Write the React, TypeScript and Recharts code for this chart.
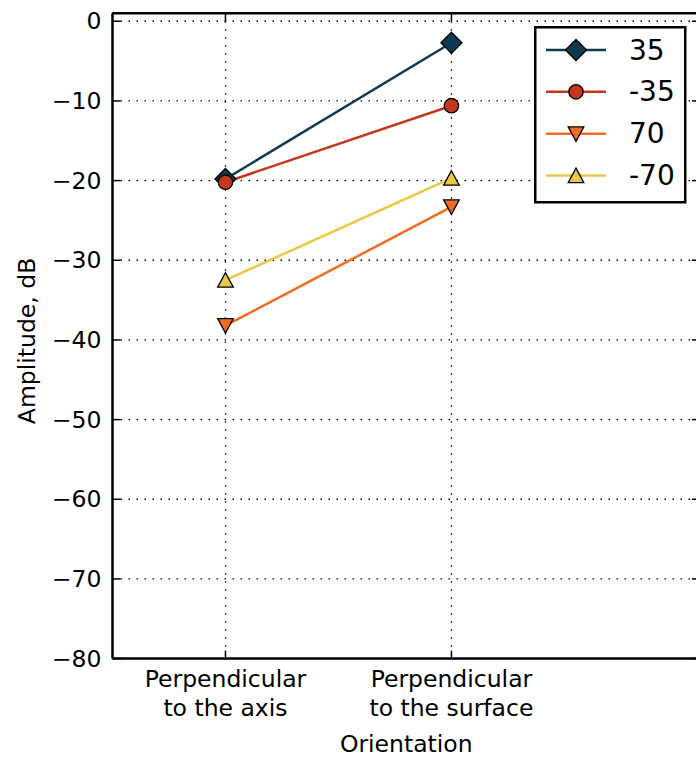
import React from 'react';
import { LineChart, Line, XAxis, YAxis, CartesianGrid } from 'recharts';

const categoryLines: string[][] = [
  ['Perpendicular', 'to the axis'],
  ['Perpendicular', 'to the surface'],
];
const xPositions = [0, 1];
const seriesNames = ['35', '-35', '70', '-70'];
const values35 = [-19.8, -2.7];
const valuesM35 = [-20.2, -10.6];
const values70 = [-38.2, -23.3];
const valuesM70 = [-32.5, -19.7];
const yTicks = [-80, -70, -60, -50, -40, -30, -20, -10, 0];

const FONT = '"DejaVu Sans", Verdana, sans-serif';

type Shape = 'diamond' | 'circle' | 'triDown' | 'triUp';

const series: { key: string; name: string; values: number[]; color: string; shape: Shape }[] = [
  { key: 's35', name: seriesNames[0], values: values35, color: '#0f3b52', shape: 'diamond' },
  { key: 'sM35', name: seriesNames[1], values: valuesM35, color: '#c4371f', shape: 'circle' },
  { key: 's70', name: seriesNames[2], values: values70, color: '#f26b21', shape: 'triDown' },
  { key: 'sM70', name: seriesNames[3], values: valuesM70, color: '#eac843', shape: 'triUp' },
];

const data = xPositions.map((x, i) => {
  const row: Record<string, number> = { x };
  series.forEach((s) => {
    row[s.key] = s.values[i];
  });
  return row;
});

function Marker({ shape, cx, cy, fill }: { shape: Shape; cx: number; cy: number; fill: string }) {
  const common = { fill, stroke: '#000', strokeWidth: 1.3 };
  if (shape === 'diamond') {
    const r = 10.5;
    return <polygon points={`${cx},${cy - r} ${cx + r},${cy} ${cx},${cy + r} ${cx - r},${cy}`} {...common} />;
  }
  if (shape === 'circle') {
    return <circle cx={cx} cy={cy} r={7.2} {...common} />;
  }
  if (shape === 'triDown') {
    return <polygon points={`${cx - 7.8},${cy - 7} ${cx + 7.8},${cy - 7} ${cx},${cy + 7.5}`} {...common} />;
  }
  return <polygon points={`${cx},${cy - 7.5} ${cx + 7.8},${cy + 7} ${cx - 7.8},${cy + 7}`} {...common} />;
}

const fmt = (v: number) => (v < 0 ? '\u2212' + Math.abs(v) : String(v));

const LeftYTick = (props: any) => {
  const { x, y, payload } = props;
  return (
    <g>
      <line x1={x + 11} x2={x + 19} y1={y} y2={y} stroke="#000" strokeWidth={1.5} />
      <text x={x} y={y} textAnchor="end" dominantBaseline="central" fontSize={23.5} fontFamily={FONT} fill="#000">
        {fmt(payload.value)}
      </text>
    </g>
  );
};

const RightYTick = (props: any) => {
  const { x, y } = props;
  return <line x1={x} x2={x - 8} y1={y} y2={y} stroke="#000" strokeWidth={1.5} />;
};

const BottomXTick = (props: any) => {
  const { x, y, payload, index } = props;
  const lines = categoryLines[index] || categoryLines[payload.value] || [];
  return (
    <g>
      <line x1={x} x2={x} y1={y} y2={y - 8} stroke="#000" strokeWidth={1.5} />
      {lines.map((t: string, i: number) => (
        <text key={i} x={x} y={y + 28 + i * 29.5} textAnchor="middle" fontSize={23.5} fontFamily={FONT} fill="#000">
          {t}
        </text>
      ))}
    </g>
  );
};

const TopXTick = (props: any) => {
  const { x, y } = props;
  return <line x1={x} x2={x} y1={y} y2={y + 8} stroke="#000" strokeWidth={1.5} />;
};

const YLabel = (props: any) => {
  const vb = props.viewBox || {};
  const cx = vb.x + 15;
  const cy = vb.y + vb.height / 2 + 5;
  return (
    <text
      x={cx}
      y={cy}
      transform={`rotate(-90, ${cx}, ${cy})`}
      textAnchor="middle"
      dominantBaseline="central"
      fontSize={23.5}
      fontFamily={FONT}
      fill="#000"
    >
      Amplitude, dB
    </text>
  );
};

const XLabel = (props: any) => {
  const vb = props.viewBox || {};
  return (
    <text x={vb.x + vb.width / 2} y={vb.y + 93} textAnchor="middle" fontSize={23.5} fontFamily={FONT} fill="#000">
      Orientation
    </text>
  );
};

function LegendBox() {
  const rowY = [24, 65.8, 107.8, 149.6];
  return (
    <svg width={153} height={178} style={{ position: 'absolute', left: 534, top: 26 }}>
      <rect x={1.25} y={1.25} width={150} height={175} fill="#fff" stroke="#000" strokeWidth={2.5} />
      {series.map((s, i) => (
        <g key={s.key}>
          <line x1={12} x2={72} y1={rowY[i]} y2={rowY[i]} stroke={s.color} strokeWidth={2.5} />
          <Marker shape={s.shape} cx={42} cy={rowY[i]} fill={s.color} />
          <text x={95} y={rowY[i]} dominantBaseline="central" fontSize={28} fontFamily={FONT} fill="#000">
            {s.name}
          </text>
        </g>
      ))}
    </svg>
  );
}

export default function App() {
  return (
    <div style={{ position: 'fixed', left: 0, top: 0, width: 696, height: 757, overflow: 'hidden', background: '#fff' }}>
      <LineChart width={730} height={757} data={data} margin={{ top: 8.3, right: 20, bottom: 0.4, left: 12.5 }}>
        <CartesianGrid stroke="#000" strokeWidth={1.3} strokeDasharray="1.5 6.5" />
        <XAxis
          dataKey="x"
          type="number"
          domain={[-0.5, 2.1]}
          ticks={xPositions}
          allowDataOverflow
          height={98}
          tickSize={0}
          tickMargin={0}
          tickLine={false}
          axisLine={{ stroke: '#000', strokeWidth: 2.5 }}
          tick={<BottomXTick />}
          interval={0}
          label={<XLabel />}
        />
        <XAxis
          xAxisId="top"
          dataKey="x"
          type="number"
          orientation="top"
          domain={[-0.5, 2.1]}
          ticks={xPositions}
          allowDataOverflow
          height={5}
          tickSize={0}
          tickMargin={0}
          tickLine={false}
          axisLine={{ stroke: '#000', strokeWidth: 2.5 }}
          tick={<TopXTick />}
          interval={0}
        />
        <YAxis
          type="number"
          domain={[-80, 1]}
          ticks={yTicks}
          allowDataOverflow
          width={100}
          tickSize={0}
          tickMargin={11}
          tickLine={false}
          axisLine={{ stroke: '#000', strokeWidth: 2.5 }}
          tick={<LeftYTick />}
          interval={0}
          label={<YLabel />}
        />
        <YAxis
          yAxisId="right"
          orientation="right"
          type="number"
          domain={[-80, 1]}
          ticks={yTicks}
          allowDataOverflow
          width={10}
          tickSize={0}
          tickMargin={0}
          tickLine={false}
          axisLine={{ stroke: '#000', strokeWidth: 2.5 }}
          tick={<RightYTick />}
          interval={0}
        />
        {series.map((s) => (
          <Line
            key={s.key}
            dataKey={s.key}
            name={s.name}
            stroke={s.color}
            strokeWidth={2.5}
            isAnimationActive={false}
            dot={(p: any) => <Marker key={`${s.key}-${p.index}`} shape={s.shape} cx={p.cx} cy={p.cy} fill={s.color} />}
            activeDot={false}
          />
        ))}
      </LineChart>
      <LegendBox />
    </div>
  );
}
